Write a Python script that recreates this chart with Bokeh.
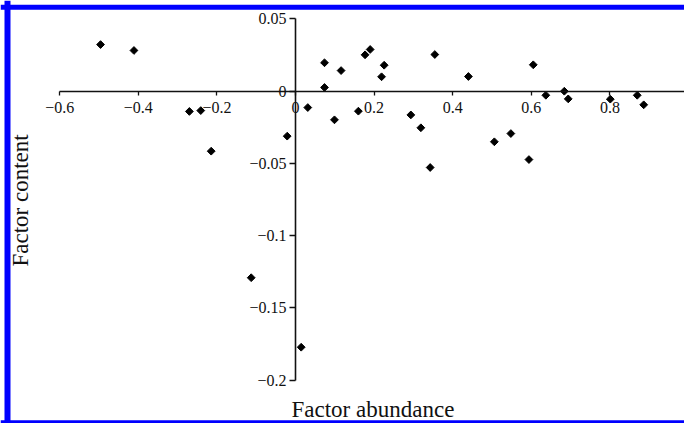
import math
from bokeh.plotting import figure
from bokeh.models import FixedTicker, Label, Span, Range1d
from bokeh.embed import file_html
from bokeh.resources import INLINE

# Data
factor_abundance = [-0.496, -0.411, -0.270, -0.241, -0.2145, -0.1127, -0.0211, 0.0145,
                    0.0313, 0.0738, 0.0738, 0.0992, 0.116, 0.160, 0.177, 0.190,
                    0.219, 0.2256, 0.2935, 0.319, 0.3427, 0.3545, 0.440, 0.506,
                    0.548, 0.594, 0.605, 0.637, 0.684, 0.694, 0.801, 0.8695, 0.886]
factor_content = [0.0323, 0.0282, -0.0140, -0.0134, -0.0415, -0.1291, -0.0311, -0.1772,
                  -0.0113, 0.0197, 0.0026, -0.0198, 0.0143, -0.0138, 0.0252, 0.0289,
                  0.0100, 0.0180, -0.0164, -0.0253, -0.0528, 0.0254, 0.0102, -0.0350,
                  -0.0293, -0.0473, 0.0183, -0.0028, 0.0000, -0.0053, -0.0055, -0.0028, -0.0094]

x_ticks = [-0.6, -0.4, -0.2, 0, 0.2, 0.4, 0.6, 0.8]
x_tick_labels = ["\u22120.6", "\u22120.4", "\u22120.2", "0", "0.2", "0.4", "0.6", "0.8"]
y_ticks = [0.05, 0, -0.05, -0.1, -0.15, -0.2]
y_tick_labels = ["0.05", "0", "\u22120.05", "\u22120.1", "\u22120.15", "\u22120.2"]

x_title = "Factor abundance"
y_title = "Factor content"

X0, X1 = -0.7506, 0.9898
Y0, Y1 = -0.2300, 0.0628

p = figure(width=684, height=423, output_backend="svg", toolbar_location=None,
           x_range=Range1d(X0, X1), y_range=Range1d(Y0, Y1), min_border=0)
p.background_fill_color = "white"
p.border_fill_color = "white"
p.outline_line_color = None
p.grid.visible = False

SERIF = "Liberation Serif"

# blue frame of the original picture (left, top, bottom) - drawn first
p.add_layout(Span(location=-0.7328, dimension="height", line_color="#0000ff", line_width=6))
p.add_layout(Span(location=0.0581, dimension="width", line_color="#0000ff", line_width=5))
p.add_layout(Span(location=-0.2292, dimension="width", line_color="#0000ff", line_width=4))

for ax in (p.xaxis[0], p.yaxis[0]):
    ax.fixed_location = 0
    ax.axis_line_color = "#111111"
    ax.axis_line_width = 1.6
    ax.major_tick_line_color = "#111111"
    ax.major_tick_line_width = 1.3
    ax.major_tick_in = 0
    ax.minor_tick_line_color = None
    ax.major_label_text_font = SERIF
    ax.major_label_text_font_size = "16px"
    ax.major_label_text_color = "#111111"

xa = p.xaxis[0]
xa.ticker = FixedTicker(ticks=x_ticks)
xa.major_label_overrides = dict(zip(x_ticks, x_tick_labels))
xa.bounds = (-0.6, X1)
xa.major_tick_out = 4
xa.major_label_standoff = 7

ya = p.yaxis[0]
ya.ticker = FixedTicker(ticks=y_ticks)
ya.major_label_overrides = dict(zip(y_ticks, y_tick_labels))
ya.bounds = (-0.2, 0.05)
ya.major_tick_out = 6
ya.major_label_standoff = 3
try:
    ya.major_label_background_fill_color = "white"
except Exception:
    pass

p.scatter(factor_abundance, factor_content, marker="square", size=5.5,
          angle=math.pi / 4, color="black")

p.add_layout(Label(x=0.197, y=-0.2201, text=x_title, text_font=SERIF,
                   text_font_size="23px", text_align="center",
                   text_baseline="alphabetic", text_color="#111111"))
p.add_layout(Label(x=-0.6985, y=-0.0756, text=y_title, text_font=SERIF,
                   text_font_size="23px", text_align="center", angle=math.pi / 2,
                   text_baseline="middle", text_color="#111111"))

open("out.html", "w").write(file_html(p, INLINE))
